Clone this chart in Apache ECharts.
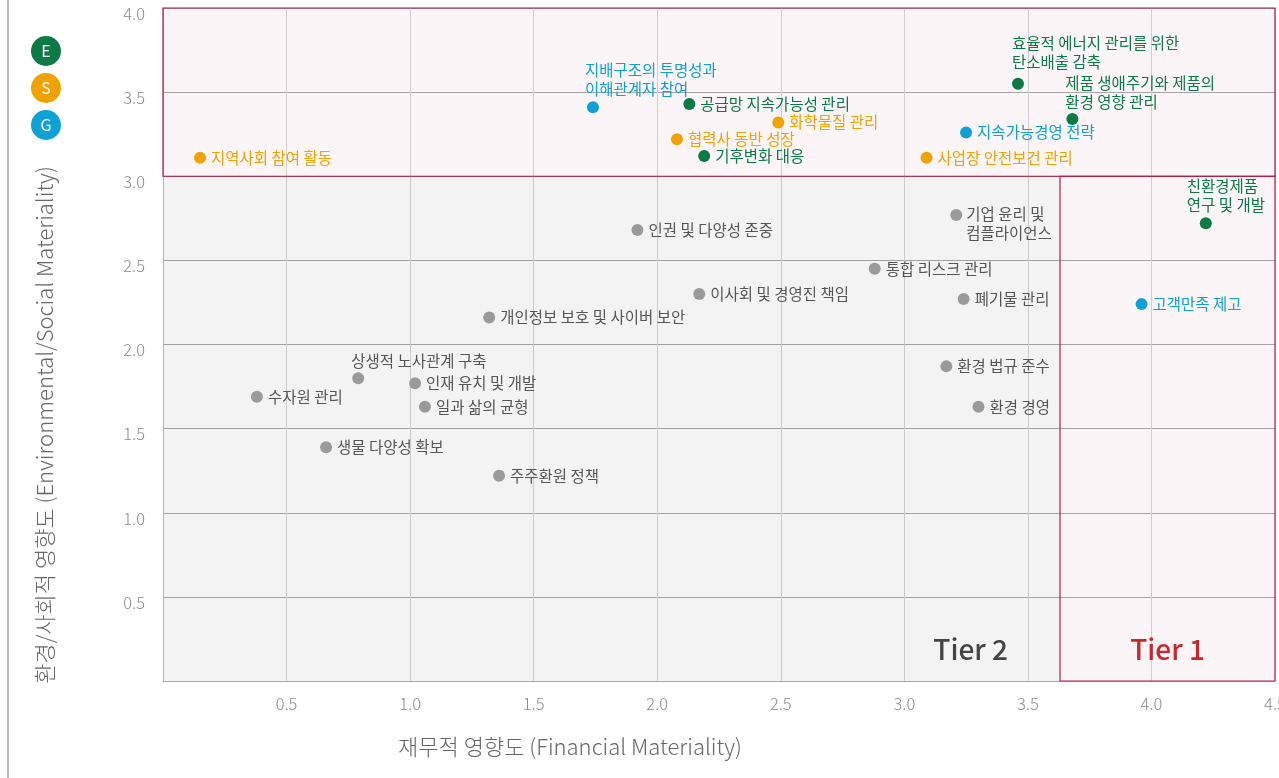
<!DOCTYPE html>
<html>
<head>
<meta charset="utf-8">
<script src="https://cdn.jsdelivr.net/npm/echarts@6/dist/echarts.min.js"></script>
<style>
  html, body { margin: 0; padding: 0; background: #fff; }
  #chart { width: 1279px; height: 778px; }
</style>
</head>
<body>
<div id="chart"></div>
<script>
// 축 눈금
const xTicks = [0.5, 1.0, 1.5, 2.0, 2.5, 3.0, 3.5, 4.0, 4.5]
const yTicks = [0.5, 1.0, 1.5, 2.0, 2.5, 3.0, 3.5, 4.0]

// Tier 경계
const tierX = 3.63
const tierY = 3.0

// E - 환경
const envNames = ['효율적 에너지 관리를 위한\n탄소배출 감축', '제품 생애주기와 제품의\n환경 영향 관리', '공급망 지속가능성 관리', '기후변화 대응', '친환경제품\n연구 및 개발']
const envX = [3.46, 3.68, 2.13, 2.19, 4.22]
const envY = [3.55, 3.34, 3.43, 3.12, 2.72]

// S - 사회
const socNames = ['지역사회 참여 활동', '협력사 동반 성장', '화학물질 관리', '사업장 안전보건 관리']
const socX = [0.15, 2.08, 2.49, 3.09]
const socY = [3.11, 3.22, 3.32, 3.11]

// G - 지배구조
const govNames = ['지배구조의 투명성과\n이해관계자 참여', '지속가능경영 전략', '고객만족 제고']
const govX = [1.74, 3.25, 3.96]
const govY = [3.41, 3.26, 2.24]

// 기타 이슈 (회색)
const otherNames = ['기업 윤리 및\n컴플라이언스', '인권 및 다양성 존중', '통합 리스크 관리', '폐기물 관리', '이사회 및 경영진 책임', '개인정보 보호 및 사이버 보안', '상생적 노사관계 구축', '인재 유치 및 개발', '수자원 관리', '일과 삶의 균형', '환경 법규 준수', '환경 경영', '생물 다양성 확보', '주주환원 정책']
const otherX = [3.21, 1.92, 2.88, 3.24, 2.17, 1.32, 0.79, 1.02, 0.38, 1.06, 3.17, 3.30, 0.66, 1.36]
const otherY = [2.77, 2.68, 2.45, 2.27, 2.30, 2.16, 1.80, 1.77, 1.69, 1.63, 1.87, 1.63, 1.39, 1.22]

const FONT = "'Noto Sans CJK KR', 'Noto Sans', sans-serif"

// 라벨 위치 (점 위에 표시되는 라벨)
const aboveLabels = {
  '효율적 에너지 관리를 위한\n탄소배출 감축': [0, -6],
  '제품 생애주기와 제품의\n환경 영향 관리': [-1, -1],
  '지배구조의 투명성과\n이해관계자 참여': [-2, -3],
  '친환경제품\n연구 및 개발': [-13, -3],
  '상생적 노사관계 구축': [-1, -2]
}

function makeData(names, xs, ys) {
  return names.map((n, i) => {
    let item = { name: n, value: [xs[i], ys[i]] }
    if (aboveLabels[n]) {
      item.label = { position: aboveLabels[n], align: 'left', verticalAlign: 'bottom' }
    } else if (n.indexOf('기업 윤리') === 0) {
      item.label = { position: [16, -4], align: 'left', verticalAlign: 'top' }
    }
    return item
  })
}

function scatter(name, color, textColor, names, xs, ys) {
  return {
    name: name,
    type: 'scatter',
    symbolSize: 12,
    z: 5,
    itemStyle: { color: color, opacity: 1 },
    label: {
      show: true,
      position: 'right',
      distance: 5,
      formatter: '{b}',
      color: textColor,
      fontSize: 15.5,
      lineHeight: 19,
      fontFamily: FONT
    },
    data: makeData(names, xs, ys)
  }
}

const fmt = v => (v === 0 ? '' : v.toFixed(1))

let chart = echarts.init(document.getElementById('chart'))
chart.setOption({
  animation: false,
  grid: { left: 163, right: 4, top: 8, bottom: 97, outerBoundsMode: 'none' },
  xAxis: {
    type: 'value',
    min: 0,
    max: xTicks[xTicks.length - 1],
    interval: 0.5,
    axisLine: { show: true, lineStyle: { color: '#aaa' } },
    axisTick: { show: false },
    axisLabel: { formatter: fmt, color: '#8a8a8a', fontSize: 16.5, fontWeight: 300, fontFamily: FONT, margin: 14, showMaxLabel: true },
    splitLine: { show: true, lineStyle: { color: '#d6d6d6' } }
  },
  yAxis: {
    type: 'value',
    min: 0,
    max: yTicks[yTicks.length - 1],
    interval: 0.5,
    axisLine: { show: true, lineStyle: { color: '#bbb' } },
    axisTick: { show: false },
    // 라벨이 눈금선보다 살짝 아래에 위치
    axisLabel: { formatter: fmt, color: '#8a8a8a', fontSize: 16.5, fontWeight: 300, fontFamily: FONT, margin: 18, verticalAlign: 'top', lineHeight: 11 },
    splitLine: { show: true, lineStyle: { color: '#ababab' } }
  },
  graphic: [
    { type: 'line', shape: { x1: 8, y1: 0, x2: 8, y2: 778 }, style: { stroke: '#bbb', lineWidth: 2 } },
    { type: 'circle', shape: { cx: 46, cy: 51, r: 15 }, style: { fill: '#0b7a45' } },
    { type: 'text', x: 46, y: 51, style: { text: 'E', fill: '#fff', fontSize: 16, fontFamily: FONT, align: 'center', verticalAlign: 'middle' } },
    { type: 'circle', shape: { cx: 46, cy: 88, r: 15 }, style: { fill: '#f0a300' } },
    { type: 'text', x: 46, y: 88, style: { text: 'S', fill: '#fff', fontSize: 16, fontFamily: FONT, align: 'center', verticalAlign: 'middle' } },
    { type: 'circle', shape: { cx: 46, cy: 125, r: 15 }, style: { fill: '#0da2d3' } },
    { type: 'text', x: 46, y: 125, style: { text: 'G', fill: '#fff', fontSize: 16, fontFamily: FONT, align: 'center', verticalAlign: 'middle' } },
    { type: 'text', x: 45, y: 425, rotation: Math.PI / 2,
      style: { text: '환경/사회적 영향도 (Environmental/Social Materiality)', fill: '#666', fontSize: 22, fontWeight: 300, fontFamily: FONT, align: 'center', verticalAlign: 'middle' } },
    { type: 'text', x: 570, y: 747,
      style: { text: '재무적 영향도 (Financial Materiality)', fill: '#666', fontSize: 22, fontWeight: 300, fontFamily: FONT, align: 'center', verticalAlign: 'middle' } }
  ],
  series: [
    {
      name: 'tiers',
      type: 'scatter',
      data: [],
      markArea: {
        silent: true,
        data: [
          [
            { name: 'Tier 2', xAxis: 0, yAxis: 0,
              itemStyle: { color: 'rgba(0,0,0,0.048)', borderWidth: 0 },
              label: { show: true, position: 'insideBottomRight', distance: 18, offset: [-34, 0], color: '#444', fontSize: 28, fontWeight: 500, fontFamily: FONT } },
            { xAxis: tierX, yAxis: tierY }
          ],
          [
            { name: 'Tier 1', xAxis: tierX, yAxis: 0,
              itemStyle: { color: 'rgba(170,30,60,0.045)', borderColor: '#b0204a', borderWidth: 1.2 },
              label: { show: true, position: 'insideBottom', distance: 18, color: '#c8282d', fontSize: 28, fontWeight: 500, fontFamily: FONT } },
            { xAxis: xTicks[xTicks.length - 1], yAxis: tierY }
          ],
          [
            { name: '', xAxis: 0, yAxis: tierY,
              itemStyle: { color: 'rgba(170,30,60,0.045)', borderColor: '#a8193f', borderWidth: 1.2 },
              label: { show: false } },
            { xAxis: xTicks[xTicks.length - 1], yAxis: yTicks[yTicks.length - 1] }
          ]
        ]
      }
    },
    scatter('기타', '#9a9a9a', '#555', otherNames, otherX, otherY),
    scatter('E', '#0b7a45', '#0b7a45', envNames, envX, envY),
    scatter('S', '#f0a300', '#f0a300', socNames, socX, socY),
    scatter('G', '#0da2d3', '#0da2d3', govNames, govX, govY)
  ]
})
</script>
</body>
</html>
